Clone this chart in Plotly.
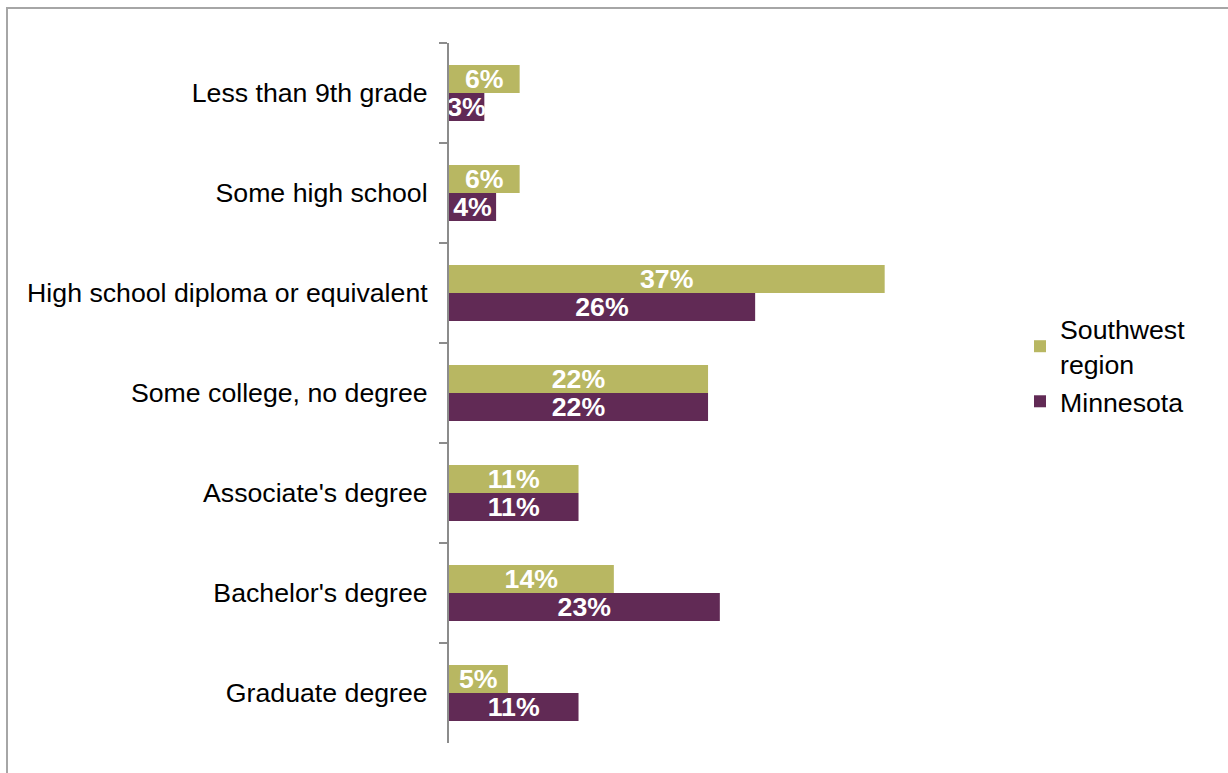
import plotly.graph_objects as go

categories = ["Less than 9th grade", "Some high school", "High school diploma or equivalent",
              "Some college, no degree", "Associate's degree", "Bachelor's degree", "Graduate degree"]
southwest = [6, 6, 37, 22, 11, 14, 5]
minnesota = [3, 4, 26, 22, 11, 23, 11]

W, H = 1228, 773
L, T, B = 449, 43, 30
xmax = 40
plot_w = 471
R = W - L - plot_w
plot_h = H - T - B

font = "Liberation Sans, Arial, sans-serif"
FS = 26.7

fig = go.Figure()
fig.add_trace(go.Bar(
    y=categories, x=southwest, name="Southwest<br>region", orientation="h",
    marker=dict(color="#B8B762", line=dict(width=0)),
    texttemplate="<b>%{x}%</b>", textposition="inside", insidetextanchor="middle",
    constraintext="none", textangle=0,
    insidetextfont=dict(color="white", size=FS, family=font),
))
fig.add_trace(go.Bar(
    y=categories, x=minnesota, name="Minnesota", orientation="h",
    marker=dict(color="#612A55", line=dict(width=0)),
    texttemplate="<b>%{x}%</b>", textposition="inside", insidetextanchor="middle",
    constraintext="none", textangle=0,
    insidetextfont=dict(color="white", size=FS, family=font),
))

fig.update_layout(
    width=W, height=H,
    margin=dict(l=L, r=R, t=T, b=B, pad=0),
    paper_bgcolor="white", plot_bgcolor="white",
    barmode="group", bargap=0.44, bargroupgap=0,
    font=dict(family=font, size=FS, color="black"),
    showlegend=True,
    legend=dict(x=(1020 - L) / plot_w, y=1 - (305 - T) / plot_h, xanchor="left", yanchor="top",
                font=dict(size=FS, family=font, color="black"),
                bgcolor="rgba(0,0,0,0)", itemwidth=30, tracegroupgap=0),
    xaxis=dict(range=[0, xmax], visible=False, showgrid=False, zeroline=False),
    yaxis=dict(autorange="reversed", showline=True, linecolor="#8C8C8C", linewidth=2,
               ticks="outside", tickson="boundaries", ticklen=8, tickcolor="#8C8C8C", tickwidth=2,
               ticklabelstandoff=14, showgrid=False, zeroline=False,
               tickfont=dict(size=FS, family=font, color="black")),
    shapes=[dict(type="rect", xref="paper", yref="paper",
                 x0=(7 - L) / plot_w, x1=(W + 50 - L) / plot_w,
                 y0=-(B + 50) / plot_h, y1=1 + (T - 8) / plot_h,
                 line=dict(color="#A6A6A6", width=2), fillcolor="rgba(0,0,0,0)", layer="below")],
)

fig.write_html("out.html", config={"displayModeBar": False},
               post_script="document.body.style.margin='0px';document.body.style.overflow='hidden';")
